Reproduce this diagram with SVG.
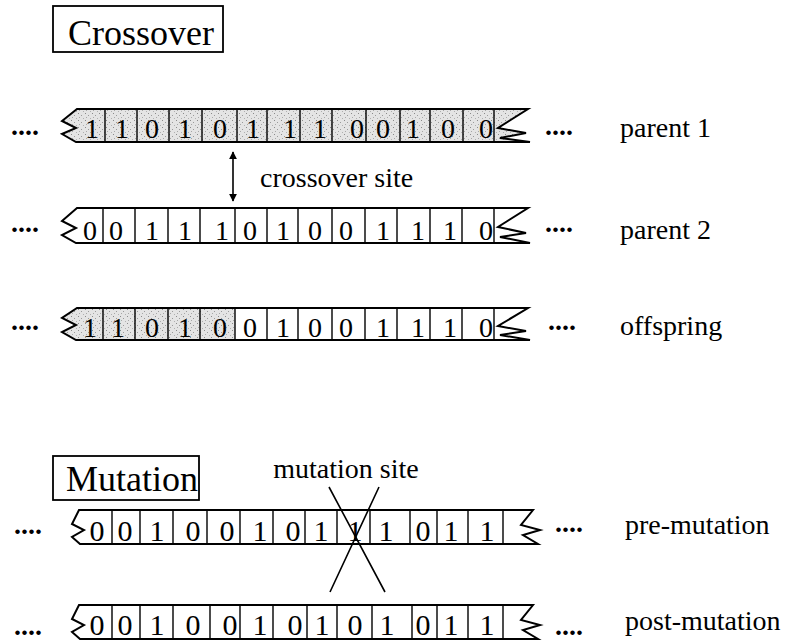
<svg xmlns="http://www.w3.org/2000/svg" width="785" height="643" viewBox="0 0 785 643" font-family="'Liberation Serif', 'Times New Roman', serif">
  <style>
    .t { font-family: 'Liberation Serif', 'Times New Roman', serif; fill: #000; }
    .title { font-size: 36px; }
    .lbl { font-size: 28px; }
    .dig { font-size: 28px; text-anchor: middle; }
    .digm { font-size: 30px; text-anchor: middle; }
    .dots { font-size: 28px; font-weight: bold; }
    .box { fill: none; stroke: #000; stroke-width: 1.8; }
    .edge { fill: none; stroke: #000; stroke-width: 2; stroke-linejoin: miter; }
    .div { fill: none; stroke: #000; stroke-width: 1.4; }
    .shade { fill: url(#stipple); stroke: none; }
    .conn { fill: none; stroke: #000; stroke-width: 1.6; }
  </style>
  <defs>
    <pattern id="stipple" width="7" height="7" patternUnits="userSpaceOnUse">
      <rect width="7" height="7" fill="#e4e4e4"/>
      <rect x="1" y="1" width="1" height="1" fill="#8a8a8a"/>
      <rect x="4" y="3" width="1" height="1" fill="#9a9a9a"/>
      <rect x="2" y="5" width="1" height="1" fill="#a8a8a8"/>
      <rect x="6" y="6" width="1" height="1" fill="#b0b0b0"/>
    </pattern>
    <marker id="head" viewBox="0 0 10 10" refX="9" refY="5" markerWidth="8" markerHeight="9" markerUnits="userSpaceOnUse" orient="auto-start-reverse">
      <path d="M0,0 L10,5 L0,10 Z" fill="#000"/>
    </marker>
  </defs>

  <!-- Section title: Crossover -->
  <g id="crossover-title">
    <rect class="box" x="53" y="6" width="170" height="46"/>
    <text class="t title" x="68" y="45">Crossover</text>
  </g>

  <!-- Parent 1 (fully shaded) -->
  <g id="parent1">
    <text class="t dots" x="11" y="135">....</text>
    <path class="shade" d="M77,109 H528 L498,128 L526,133 L500,138 L530,142 H76 L62,134 L76,128 L62,121 Z"/>
    <path class="edge" d="M77,109 H528 L498,128 L526,133 L500,138 L530,142 H76 L62,134 L76,128 L62,121 Z"/>
    <path class="div" d="M105,109V142 M137,109V142 M169,109V142 M202,109V142 M237,109V142 M267,109V142 M300,109V142 M332,109V142 M366,109V142 M400,109V142 M430,109V142 M463,109V142 M494,109V142"/>
    <g class="t dig">
      <text x="92" y="138">1</text><text x="122" y="138">1</text><text x="152" y="138">0</text>
      <text x="185" y="138">1</text><text x="220" y="138">0</text><text x="253" y="138">1</text>
      <text x="290" y="138">1</text><text x="320" y="138">1</text><text x="357" y="138">0</text>
      <text x="383" y="138">0</text><text x="413" y="138">1</text><text x="448" y="138">0</text>
      <text x="486" y="138">0</text>
    </g>
    <text class="t dots" x="545" y="135">....</text>
    <text class="t lbl" x="620" y="137">parent 1</text>
  </g>

  <!-- Crossover site marker -->
  <g id="connectors">
    <line class="conn" x1="233" y1="152" x2="233" y2="201" marker-start="url(#head)" marker-end="url(#head)"/>
  </g>
  <g id="crossover-site">
    <text class="t lbl" x="260" y="187">crossover site</text>
  </g>

  <!-- Parent 2 -->
  <g id="parent2">
    <text class="t dots" x="11" y="232">....</text>
    <path class="edge" d="M77,208 H528 L498,227 L526,233 L500,237 L530,243 H76 L62,235 L76,228 L62,221 Z"/>
    <path class="div" d="M103,208V243 M135,208V243 M168,208V243 M200,208V243 M235,208V243 M267,208V243 M298,208V243 M332,208V243 M365,208V243 M397,208V243 M430,208V243 M462,208V243 M494,208V243"/>
    <g class="t dig">
      <text x="90" y="240">0</text><text x="116" y="240">0</text><text x="152" y="240">1</text>
      <text x="185" y="240">1</text><text x="222" y="240">1</text><text x="250" y="240">0</text>
      <text x="283" y="240">1</text><text x="315" y="240">0</text><text x="346" y="240">0</text>
      <text x="383" y="240">1</text><text x="418" y="240">1</text><text x="450" y="240">1</text>
      <text x="486" y="240">0</text>
    </g>
    <text class="t dots" x="545" y="232">....</text>
    <text class="t lbl" x="620" y="239">parent 2</text>
  </g>

  <!-- Offspring (head shaded up to the crossover site) -->
  <g id="offspring">
    <text class="t dots" x="11" y="330">....</text>
    <path class="shade" d="M77,308 H235 V340 H76 L62,332 L76,325 L62,318 Z"/>
    <path class="edge" d="M77,308 H528 L498,326 L526,331 L500,335 L530,340 H76 L62,332 L76,325 L62,318 Z"/>
    <path class="div" d="M103,308V340 M135,308V340 M168,308V340 M200,308V340 M235,308V340 M267,308V340 M298,308V340 M332,308V340 M365,308V340 M397,308V340 M430,308V340 M462,308V340 M494,308V340"/>
    <g class="t dig">
      <text x="90" y="337">1</text><text x="118" y="337">1</text><text x="152" y="337">0</text>
      <text x="185" y="337">1</text><text x="220" y="337">0</text><text x="250" y="337">0</text>
      <text x="283" y="337">1</text><text x="315" y="337">0</text><text x="346" y="337">0</text>
      <text x="383" y="337">1</text><text x="418" y="337">1</text><text x="450" y="337">1</text>
      <text x="486" y="337">0</text>
    </g>
    <text class="t dots" x="548" y="330">....</text>
    <text class="t lbl" x="620" y="335">offspring</text>
  </g>

  <!-- Section title: Mutation -->
  <g id="mutation-title">
    <rect class="box" x="53" y="456" width="146" height="44"/>
    <text class="t title" x="66" y="491">Mutation</text>
  </g>

  <g id="mutation-site">
    <text class="t lbl" x="346" y="478" text-anchor="middle">mutation site</text>
  </g>

  <!-- Pre-mutation string -->
  <g id="pre-mutation">
    <text class="t dots" x="14" y="534">....</text>
    <path class="edge" d="M79,510 H533 L521,525 L540,530 L523,535 L538,544 H80 L72,537 L84,530 L72,524 Z"/>
    <path class="div" d="M112,510V544 M140,510V544 M173,510V544 M207,510V544 M240,510V544 M273,510V544 M305,510V544 M337,510V544 M370,510V544 M410,510V544 M437,510V544 M468,510V544 M503,510V544"/>
    <g class="t digm">
      <text x="97" y="541">0</text><text x="125" y="541">0</text><text x="157" y="541">1</text>
      <text x="193" y="541">0</text><text x="227" y="541">0</text><text x="260" y="541">1</text>
      <text x="293" y="541">0</text><text x="321" y="541">1</text><text x="355" y="541">1</text>
      <text x="386" y="541">1</text><text x="423" y="541">0</text><text x="451" y="541">1</text>
      <text x="487" y="541">1</text>
    </g>
    <path class="conn" d="M329,487 L385,592 M379,487 L330,592"/>
    <text class="t dots" x="555" y="532">....</text>
    <text class="t lbl" x="625" y="534">pre-mutation</text>
  </g>

  <!-- Post-mutation string -->
  <g id="post-mutation">
    <text class="t dots" x="14" y="635">....</text>
    <path class="edge" d="M79,605 H533 L521,620 L540,625 L523,630 L538,639 H80 L72,632 L84,625 L72,619 Z"/>
    <path class="div" d="M112,605V639 M140,605V639 M173,605V639 M210,605V639 M240,605V639 M273,605V639 M307,605V639 M337,605V639 M372,605V639 M412,605V639 M437,605V639 M468,605V639 M503,605V639"/>
    <g class="t digm">
      <text x="97" y="635">0</text><text x="125" y="635">0</text><text x="157" y="635">1</text>
      <text x="193" y="635">0</text><text x="230" y="635">0</text><text x="260" y="635">1</text>
      <text x="295" y="635">0</text><text x="322" y="635">1</text><text x="355" y="635">0</text>
      <text x="387" y="635">1</text><text x="423" y="635">0</text><text x="451" y="635">1</text>
      <text x="487" y="635">1</text>
    </g>
    <text class="t dots" x="555" y="635">....</text>
    <text class="t lbl" x="625" y="630">post-mutation</text>
  </g>
</svg>
